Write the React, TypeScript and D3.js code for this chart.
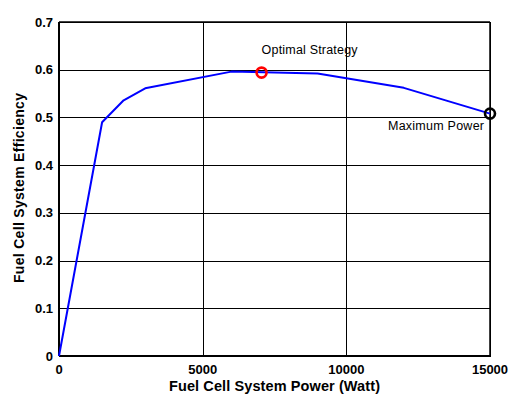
import React from "react";
import * as d3 from "d3";

// Fuel cell system efficiency curve (power in W, efficiency as fraction)
const powerWatt = [0, 1500, 2250, 3000, 6000, 9000, 12000, 15000];
const efficiency = [0, 0.49, 0.536, 0.561, 0.596, 0.592, 0.562, 0.508];

// Highlighted operating points
const optimalPoint = { power: 7050, eff: 0.594, label: "Optimal Strategy" };
const maxPoint = { power: 15000, eff: 0.508, label: "Maximum Power" };

const xTicks = [0, 5000, 10000, 15000];
const yTicks = [0, 0.1, 0.2, 0.3, 0.4, 0.5, 0.6, 0.7];

const W = 509;
const H = 394;
const margin = { left: 59, right: 19, top: 22, bottom: 38 };

export default function App() {
  const x = d3
    .scaleLinear()
    .domain([0, 15000])
    .range([margin.left, W - margin.right]);
  const y = d3
    .scaleLinear()
    .domain([0, 0.7])
    .range([H - margin.bottom, margin.top]);

  const line = d3
    .line<number>()
    .x((_, i) => x(powerWatt[i]))
    .y((d) => y(d));

  const x0 = x(0);
  const x1 = x(15000);
  const y0 = y(0);
  const y1 = y(0.7);
  const font = "Arial, 'Liberation Sans', Helvetica, sans-serif";

  return (
    <svg
      width={W}
      height={H}
      style={{ position: "absolute", left: 0, top: 0, background: "#fff" }}
      fontFamily={font}
    >
      <rect x={0} y={0} width={W} height={H} fill="#fff" />
      {/* grid */}
      {yTicks.map((t) => (
        <line
          key={"gy" + t}
          x1={x0}
          x2={x1}
          y1={Math.round(y(t)) + 0.5}
          y2={Math.round(y(t)) + 0.5}
          stroke="#000"
          strokeWidth={1}
        />
      ))}
      {xTicks.map((t) => (
        <line
          key={"gx" + t}
          x1={Math.round(x(t)) + 0.5}
          x2={Math.round(x(t)) + 0.5}
          y1={y0}
          y2={y1}
          stroke="#000"
          strokeWidth={1}
        />
      ))}
      {/* box */}
      <line x1={x0} x2={x1} y1={y1} y2={y1} stroke="#000" strokeWidth={1.5} />
      <line x1={x1} x2={x1} y1={y0} y2={y1} stroke="#000" strokeWidth={1.5} />
      <line x1={x0} x2={x1 + 1} y1={y0} y2={y0} stroke="#000" strokeWidth={2} />
      <line x1={x0} x2={x0} y1={y0} y2={y1} stroke="#000" strokeWidth={2} />

      {/* curve */}
      <path
        d={line(efficiency) || ""}
        fill="none"
        stroke="#0000ff"
        strokeWidth={2}
        strokeLinejoin="round"
      />

      {/* highlighted points */}
      <circle
        cx={x(optimalPoint.power)}
        cy={y(optimalPoint.eff)}
        r={5}
        fill="none"
        stroke="#ff0000"
        strokeWidth={2.6}
      />
      <circle
        cx={x(maxPoint.power)}
        cy={y(maxPoint.eff)}
        r={5}
        fill="none"
        stroke="#000"
        strokeWidth={2.6}
      />
      <text
        x={x(optimalPoint.power)}
        y={y(optimalPoint.eff) - 19}
        fontSize={12.5}
        fill="#000"
        textLength={96}
        lengthAdjust="spacing"
      >
        {optimalPoint.label}
      </text>
      <text
        x={x(maxPoint.power) - 6}
        y={y(maxPoint.eff) + 16}
        fontSize={12.5}
        fill="#000"
        textAnchor="end"
        textLength={96}
        lengthAdjust="spacing"
      >
        {maxPoint.label}
      </text>

      {/* tick labels */}
      {yTicks.map((t) => (
        <text
          key={"ty" + t}
          x={x0 - 6}
          y={y(t) + 4.5}
          fontSize={13}
          fontWeight="bold"
          textAnchor="end"
        >
          {t === 0 ? "0" : t.toFixed(1)}
        </text>
      ))}
      {xTicks.map((t) => (
        <text
          key={"tx" + t}
          x={x(t)}
          y={y0 + 18}
          fontSize={13}
          fontWeight="bold"
          textAnchor="middle"
        >
          {t}
        </text>
      ))}

      {/* axis titles */}
      <text
        x={274.5}
        y={H - 3}
        fontSize={14.5}
        fontWeight="bold"
        textAnchor="middle"
        textLength={211}
        lengthAdjust="spacing"
      >
        Fuel Cell System Power (Watt)
      </text>
      <text
        transform={`translate(24, 188) rotate(-90)`}
        fontSize={14}
        fontWeight="bold"
        textAnchor="middle"
        textLength={190}
        lengthAdjust="spacing"
      >
        Fuel Cell System Efficiency
      </text>
    </svg>
  );
}
